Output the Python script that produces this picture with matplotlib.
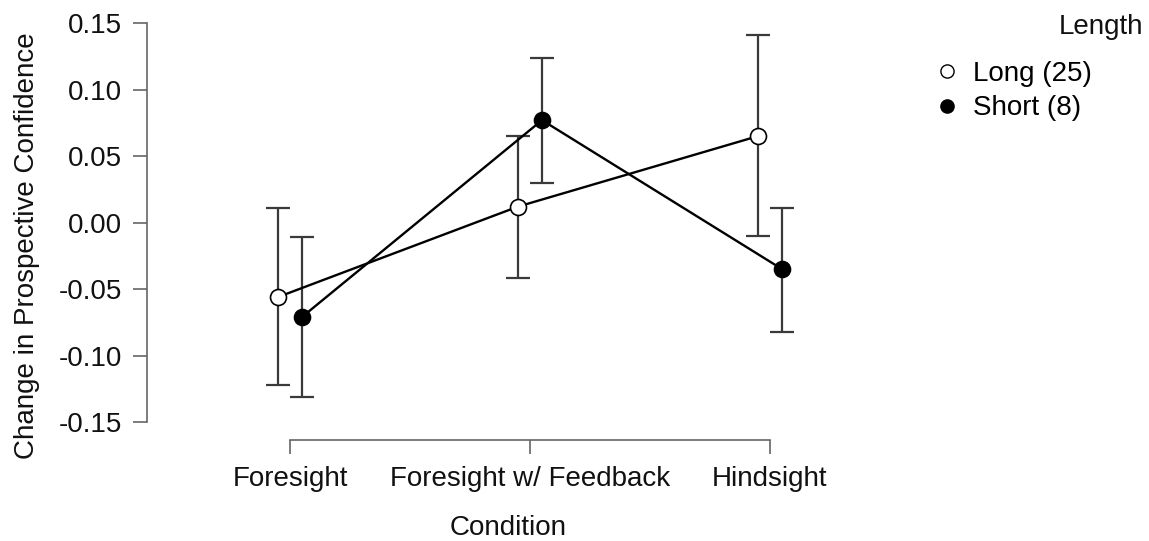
import matplotlib
matplotlib.use("Agg")
import matplotlib.pyplot as plt
from matplotlib.lines import Line2D
import numpy as np

plt.rcParams['font.family'] = ['Liberation Sans', 'DejaVu Sans']

conditions = ['Foresight', 'Foresight w/ Feedback', 'Hindsight']

long_mean = [-0.056, 0.012, 0.065]
long_lo = [-0.122, -0.042, -0.010]
long_hi = [0.011, 0.065, 0.141]

short_mean = [-0.071, 0.077, -0.035]
short_lo = [-0.131, 0.030, -0.082]
short_hi = [-0.011, 0.124, 0.011]

x = np.arange(len(conditions))
dodge = 0.05

fig = plt.figure(figsize=(11.49, 5.41), dpi=100)
ax = fig.add_axes([147 / 1149, 101 / 541, 723 / 1149, 420 / 541])

def draw(xs, m, lo, hi, face):
    m = np.array(m)
    err = [m - np.array(lo), np.array(hi) - m]
    ax.errorbar(xs, m, yerr=err, fmt='none', ecolor='#3a3a3a', elinewidth=1.6,
                capsize=8.5, capthick=1.6, zorder=2)
    ax.plot(xs, m, color='black', lw=1.7, zorder=3)
    ax.plot(xs, m, 'o', ms=11.5, mfc=face, mec='black', mew=1.2, zorder=4)

draw(x - dodge, long_mean, long_lo, long_hi, 'white')
draw(x + dodge, short_mean, short_lo, short_hi, 'black')

ax.set_xlim(-0.596, 2.4167)
ax.set_ylim(-0.1635, 0.1523)

ax.set_yticks([-0.15, -0.10, -0.05, 0.00, 0.05, 0.10, 0.15])
ax.set_yticklabels(['-0.15', '-0.10', '-0.05', '0.00', '0.05', '0.10', '0.15'])
ax.set_xticks(x)
ax.set_xticklabels(conditions)

for s in ['top', 'right']:
    ax.spines[s].set_visible(False)
ax.spines['left'].set_bounds(-0.15, 0.15)
ax.spines['bottom'].set_bounds(0, 2)
for s in ['left', 'bottom']:
    ax.spines[s].set_color('#666666')
    ax.spines[s].set_linewidth(1.2)

ax.tick_params(axis='both', direction='out', length=10, width=1.2, color='#666666',
               labelsize=20, labelcolor='#111111', pad=8)
ax.tick_params(axis='x', pad=9)

ax.set_ylabel('Change in Prospective Confidence', fontsize=20, color='#111111')
ax.yaxis.set_label_coords(-0.148, (440 - 246) / 420)
ax.set_xlabel('Condition', fontsize=20, color='#111111', labelpad=16)

handles = [
    Line2D([], [], marker='o', ls='none', ms=9.5, mfc='white', mec='black', mew=1.0),
    Line2D([], [], marker='o', ls='none', ms=9.5, mfc='black', mec='black', mew=1.0),
]
fig.text(1143 / 1149, 1 - 27 / 541, 'Length', ha='right', va='center', fontsize=20, color='#111111')
fig.legend(handles, ['Long (25)', 'Short (8)'], loc='upper left',
           bbox_to_anchor=(919 / 1149, 1 - 47 / 541), frameon=False, fontsize=20,
           handlelength=1.0, handletextpad=0.45, labelspacing=0.3, borderpad=0)

fig.savefig('out.png', dpi=100)
